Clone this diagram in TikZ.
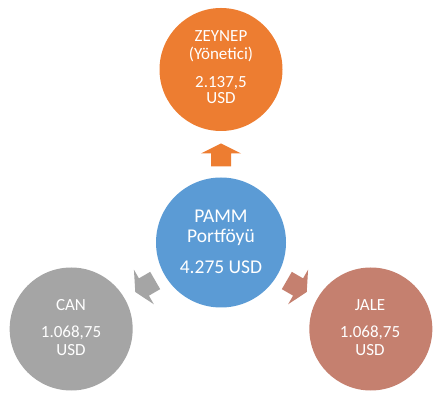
\documentclass[tikz,border=0pt]{standalone}
\usepackage{fontspec}
\setmainfont{Carlito}
\usetikzlibrary{calc}
\definecolor{cblue}{HTML}{5B9BD5}
\definecolor{corange}{HTML}{ED7D31}
\definecolor{cgray}{HTML}{A5A5A5}
\definecolor{csalmon}{HTML}{C5806F}
\tikzset{
  bubble/.style={circle, inner sep=0pt, minimum size=#1},
  outertxt/.style={anchor=base, text=white, font=\fontsize{17}{20}\selectfont, inner sep=0pt},
  centertxt/.style={anchor=base, text=white, font=\fontsize{19.5}{22}\selectfont, inner sep=0pt},
  blockarrow/.style={fill=#1, draw=none}
}
\begin{document}
\begin{tikzpicture}[x=1pt,y=1pt]
\useasboundingbox (0,0) rectangle (441,401);
\coordinate (c) at (221,158.5);
% circles
\node[bubble=130, fill=cblue] (pamm) at (c) {};
\node[bubble=123, fill=corange] (zeynep) at ($(c)+(90:173)$) {};
\node[bubble=123, fill=cgray] (can) at ($(c)+(210:173)$) {};
\node[bubble=123, fill=csalmon] (jale) at ($(c)+(330:173)$) {};
% arrows
\foreach \ang/\col in {90/corange, 210/cgray, 330/csalmon}{
  \begin{scope}[shift={(c)}, rotate=\ang]
    \fill[blockarrow=\col] (76,-10) -- (89,-10) -- (89,-20) -- (99,0) -- (89,20) -- (89,10) -- (76,10) -- cycle;
  \end{scope}
}
% texts
\node[centertxt] (t1) at (221,178.7) {PAMM};
\node[centertxt] (t2) at (221,158.3) {Portföyü};
\node[centertxt] (t3) at (221,127.7) {4.275 USD};
\node[outertxt] (z1) at (221,359.3) {ZEYNEP};
\node[outertxt] (z2) at (221,341) {(Yönetici)};
\node[outertxt] (z3) at (221,313.7) {2.137,5};
\node[outertxt] (z4) at (221,297.7) {USD};
\node[outertxt] (c1) at (71,90) {CAN};
\node[outertxt] (c2) at (71,63.7) {1.068,75};
\node[outertxt] (c3) at (71,45) {USD};
\node[outertxt] (j1) at (370,90) {JALE};
\node[outertxt] (j2) at (370,63.7) {1.068,75};
\node[outertxt] (j3) at (370,45) {USD};
\end{tikzpicture}
\end{document}
